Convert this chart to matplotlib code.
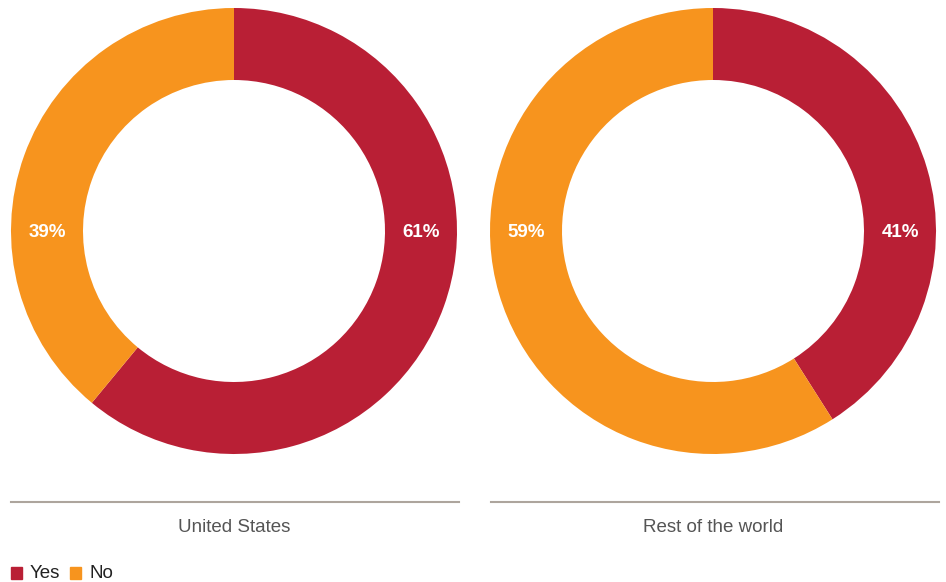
import matplotlib
matplotlib.use("Agg")
import matplotlib.pyplot as plt
from matplotlib.patches import Rectangle
from matplotlib.lines import Line2D

plt.rcParams['font.family'] = ['Liberation Sans', 'DejaVu Sans']

categories = ["Yes", "No"]
regions = ["United States", "Rest of the world"]
yes_values = [61, 41]
no_values = [39, 59]
colors = ["#B91F35", "#F7941E"]

W, H = 946, 582
fig = plt.figure(figsize=(W / 100, H / 100), dpi=100)

centers_x = [234, 713]
cy = 231
R = 223
ring_w = 72

for i, region in enumerate(regions):
    cx = centers_x[i]
    ax = fig.add_axes([(cx - R) / W, 1 - (cy + R) / H, 2 * R / W, 2 * R / H])
    vals = [yes_values[i], no_values[i]]
    ax.pie(vals, colors=colors, startangle=90, counterclock=False,
           radius=1.0, wedgeprops=dict(width=ring_w / R, edgecolor='none'))
    ax.set_xlim(-1, 1)
    ax.set_ylim(-1, 1)
    ax.set_aspect('equal')
    ax.axis('off')
    mid = 1 - ring_w / R / 2
    ax.text(mid, -0.008, f"{yes_values[i]}%", ha='center', va='center', color='white',
            fontsize=13.5, fontweight='bold')
    ax.text(-mid, -0.008, f"{no_values[i]}%", ha='center', va='center', color='white',
            fontsize=13.5, fontweight='bold')

# separators and titles
line_spans = [(11, 459), (491, 939)]
for i, region in enumerate(regions):
    x0, x1 = line_spans[i]
    fig.add_artist(Line2D([x0 / W, x1 / W], [1 - 502 / H, 1 - 502 / H],
                          color='#ADA59D', lw=1.5, transform=fig.transFigure))
    fig.text(centers_x[i] / W, 1 - 527 / H, region, ha='center', va='center',
             fontsize=13.5, color='#555555')

# legend
lx = 11
for j, cat in enumerate(categories):
    fig.add_artist(Rectangle((lx / W, 1 - 579 / H), 11 / W, 12 / H,
                             color=colors[j], transform=fig.transFigure))
    fig.text((lx + 19) / W, 1 - 573.5 / H, cat, ha='left', va='center',
             fontsize=13.5, color='#222222')
    lx += 59

fig.savefig("out.png", dpi=100)
